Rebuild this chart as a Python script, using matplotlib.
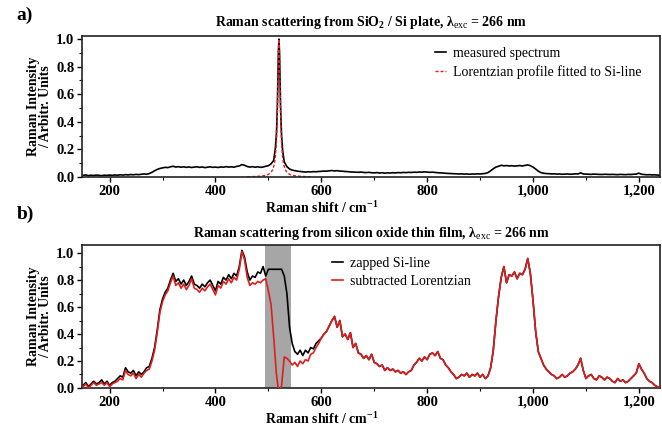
import numpy as np
import matplotlib
matplotlib.use("Agg")
import matplotlib.pyplot as plt
from matplotlib.ticker import MultipleLocator, FixedLocator, FixedFormatter

plt.rcParams['font.family'] = ['Liberation Serif', 'DejaVu Serif']
plt.rcParams['mathtext.fontset'] = 'custom'
plt.rcParams['mathtext.rm'] = 'Liberation Serif'
plt.rcParams['mathtext.bf'] = 'Liberation Serif:bold'
plt.rcParams['mathtext.it'] = 'Liberation Serif:italic'

# ---- panel a: SiO2 / Si plate ----
a_lo_x = np.arange(150, 511, 5)
a_lo_y = [0.012, 0.015, 0.010, 0.013, 0.011, 0.014, 0.012, 0.010, 0.013, 0.012,
          0.014, 0.012, 0.015, 0.013, 0.016, 0.014, 0.017, 0.015, 0.018, 0.016,
          0.019, 0.017, 0.020, 0.022, 0.020, 0.025, 0.034, 0.045, 0.055, 0.062,
          0.066, 0.070, 0.068, 0.074, 0.078, 0.072, 0.075, 0.071, 0.074, 0.070,
          0.073, 0.069, 0.072, 0.074, 0.070, 0.073, 0.068, 0.071, 0.074, 0.070,
          0.072, 0.069, 0.073, 0.071, 0.075, 0.072, 0.074, 0.071, 0.077, 0.080,
          0.090, 0.085, 0.076, 0.072, 0.075, 0.071, 0.074, 0.070, 0.072, 0.078,
          0.082, 0.095, 0.120]
a_peak_x = [511, 513, 515, 516, 517, 518, 519, 520, 521, 522, 523, 524, 525, 527, 529]
a_peak_y = [0.15, 0.20, 0.30, 0.39, 0.52, 0.71, 0.92, 1.00, 0.91, 0.70, 0.52, 0.39, 0.30, 0.19, 0.14]
a_hi_x = np.arange(530, 1241, 5)
a_hi_y = [0.110, 0.075, 0.058, 0.050,
          0.046, 0.042, 0.040, 0.038, 0.036, 0.038, 0.037, 0.039, 0.038, 0.040,
          0.041, 0.043, 0.042, 0.045, 0.047, 0.044, 0.046, 0.043, 0.042, 0.040,
          0.039, 0.037, 0.036, 0.035, 0.034, 0.036, 0.033, 0.032, 0.034, 0.031,
          0.030, 0.032, 0.029, 0.031, 0.028, 0.030, 0.029, 0.031, 0.030, 0.032,
          0.031, 0.033, 0.032, 0.034, 0.033, 0.035, 0.034, 0.036, 0.035, 0.037,
          0.036, 0.034, 0.035, 0.033, 0.031, 0.030, 0.029, 0.027, 0.026, 0.025,
          0.024, 0.023, 0.022, 0.023, 0.021, 0.022, 0.020, 0.022, 0.021, 0.023,
          0.022, 0.024, 0.026, 0.032, 0.045, 0.060, 0.072, 0.078, 0.085, 0.081,
          0.083, 0.080, 0.082, 0.079, 0.081, 0.083, 0.080, 0.084, 0.088, 0.082,
          0.072, 0.058, 0.042, 0.032, 0.027, 0.025, 0.024, 0.022, 0.023, 0.021,
          0.022, 0.020, 0.021, 0.022, 0.020, 0.021, 0.023, 0.022, 0.030, 0.022,
          0.021, 0.020, 0.019, 0.021, 0.020, 0.019, 0.018, 0.020, 0.019, 0.018,
          0.019, 0.018, 0.017, 0.019, 0.018, 0.017, 0.019, 0.018, 0.020, 0.021,
          0.028, 0.020, 0.018, 0.016, 0.017, 0.015, 0.016, 0.014, 0.013]

lor_x = [460, 470, 480, 490, 495, 500, 505, 508, 511, 513, 515, 516, 517, 518, 519, 520,
         521, 522, 523, 524, 525, 527, 529, 532, 535, 540, 545, 550, 560, 570, 580]
lor_y = [0.002, 0.003, 0.005, 0.009, 0.012, 0.019, 0.034, 0.052, 0.088, 0.138, 0.239, 0.329,
         0.466, 0.662, 0.887, 1.0, 0.887, 0.662, 0.466, 0.329, 0.239, 0.138, 0.088, 0.052,
         0.034, 0.019, 0.012, 0.009, 0.005, 0.003, 0.002]

# ---- panel b: silicon oxide thin film ----
b_x = np.arange(150, 1241, 5)
zapped = [0.02, 0.04, 0.01, 0.03, 0.05, 0.03, 0.04, 0.06, 0.03, 0.05,
          0.02, 0.04, 0.05, 0.07, 0.09, 0.08, 0.15, 0.12, 0.11, 0.13,
          0.09, 0.12, 0.10, 0.12, 0.15, 0.16, 0.22, 0.30, 0.43, 0.58,
          0.66, 0.71, 0.74, 0.80, 0.85, 0.79, 0.81, 0.77, 0.80, 0.76,
          0.79, 0.83, 0.77, 0.76, 0.74, 0.77, 0.75, 0.78, 0.80, 0.76,
          0.72, 0.79, 0.77, 0.82, 0.80, 0.84, 0.81, 0.85, 0.83, 0.90,
          1.02, 0.97, 0.86, 0.80, 0.83, 0.82, 0.86, 0.85, 0.90, 0.83,
          0.88, 0.88, 0.88, 0.88, 0.88, 0.88, 0.83, 0.70, 0.45, 0.33,
          0.27, 0.25, 0.28, 0.24, 0.28, 0.26, 0.30, 0.29, 0.33, 0.35,
          0.37, 0.40, 0.42, 0.46, 0.50, 0.53, 0.45, 0.50, 0.38, 0.40,
          0.36, 0.41, 0.30, 0.33, 0.26, 0.25, 0.22, 0.24, 0.21, 0.25,
          0.19, 0.18, 0.16, 0.17, 0.13, 0.15, 0.13, 0.14, 0.12, 0.13,
          0.11, 0.12, 0.10, 0.12, 0.13, 0.17, 0.19, 0.22, 0.20, 0.23,
          0.21, 0.25, 0.26, 0.24, 0.27, 0.22, 0.21, 0.17, 0.15, 0.12,
          0.10, 0.07, 0.08, 0.10, 0.09, 0.11, 0.08, 0.10, 0.09, 0.11,
          0.08, 0.10, 0.07, 0.09, 0.15, 0.28, 0.50, 0.68, 0.82, 0.90,
          0.78, 0.84, 0.83, 0.86, 0.81, 0.85, 0.84, 0.88, 0.96, 0.85,
          0.65, 0.42, 0.27, 0.22, 0.17, 0.14, 0.12, 0.10, 0.09, 0.07,
          0.08, 0.10, 0.08, 0.09, 0.11, 0.12, 0.14, 0.17, 0.22, 0.13,
          0.07, 0.09, 0.10, 0.07, 0.06, 0.09, 0.08, 0.06, 0.08, 0.07,
          0.05, 0.04, 0.07, 0.05, 0.06, 0.04, 0.05, 0.07, 0.09, 0.11,
          0.18, 0.14, 0.11, 0.07, 0.05, 0.04, 0.02, 0.01, 0.00]
# subtracted Lorentzian, 150-595 (identical to zapped from 600 on)
subtracted_lo = [0.01, 0.03, 0.00, 0.02, 0.04, 0.02, 0.03, 0.04, 0.02, 0.04,
                 0.01, 0.03, 0.04, 0.05, 0.07, 0.06, 0.13, 0.10, 0.09, 0.11,
                 0.07, 0.10, 0.08, 0.11, 0.13, 0.14, 0.20, 0.28, 0.41, 0.56,
                 0.64, 0.69, 0.72, 0.78, 0.83, 0.76, 0.78, 0.74, 0.77, 0.73,
                 0.76, 0.81, 0.74, 0.73, 0.71, 0.74, 0.72, 0.75, 0.77, 0.73,
                 0.69, 0.76, 0.74, 0.79, 0.77, 0.81, 0.78, 0.82, 0.80, 0.88,
                 1.01, 0.95, 0.82, 0.76, 0.78, 0.77, 0.79, 0.78, 0.80, 0.81,
                 0.72, 0.62, 0.38, 0.11, -0.05, 0.02, 0.23, 0.22, 0.20, 0.17,
                 0.19, 0.16, 0.20, 0.18, 0.21, 0.20, 0.25, 0.26, 0.30, 0.33]
subtracted = subtracted_lo + zapped[len(subtracted_lo):]
zap_band = (493, 543)

xticks = [200, 400, 600, 800, 1000, 1200]
xtick_labels = ['200', '400', '600', '800', '1,000', '1,200']
yticks = [0.0, 0.2, 0.4, 0.6, 0.8, 1.0]
ytick_labels = ['0.0', '0.2', '0.4', '0.6', '0.8', '1.0']

red = '#dd1f1f'


def style_axes(ax, ytop):
    ax.set_xlim(148, 1240)
    ax.set_ylim(0, ytop)
    ax.xaxis.set_major_locator(FixedLocator(xticks))
    ax.xaxis.set_major_formatter(FixedFormatter(xtick_labels))
    ax.xaxis.set_minor_locator(MultipleLocator(100))
    ax.yaxis.set_major_locator(FixedLocator(yticks))
    ax.yaxis.set_major_formatter(FixedFormatter(ytick_labels))
    ax.yaxis.set_minor_locator(MultipleLocator(0.1))
    ax.tick_params(which='major', direction='out', length=3.5, width=1.0, labelsize=10.5, pad=2)
    ax.tick_params(which='minor', direction='out', length=2.5, width=0.8)
    for lab in ax.get_xticklabels() + ax.get_yticklabels():
        lab.set_fontweight('bold')
    for sp in ax.spines.values():
        sp.set_linewidth(1.2)
        sp.set_color('#222222')
    ax.set_ylabel('Raman Intensity\n/ Arbitr. Units', fontsize=10, fontweight='bold',
                  linespacing=0.95)
    ax.yaxis.set_label_coords(-0.052, 0.5)
    ax.set_xlabel('Raman shift / cm$^{\\mathbf{-1}}$', fontsize=10, fontweight='bold')
    ax.xaxis.set_label_coords(0.414, -0.165)


fig = plt.figure(figsize=(6.62, 4.29), dpi=100)

ax1 = fig.add_axes([0.124, 0.5874, 0.873, 0.3287])
ax1.plot(np.concatenate([a_lo_x, a_peak_x, a_hi_x]), a_lo_y + a_peak_y + a_hi_y,
         color='black', lw=1.2, label='measured spectrum')
ax1.plot(lor_x, lor_y, color=red, lw=1.0, ls=(0, (2.2, 1.4)),
         label='Lorentzian profile fitted to Si-line')
style_axes(ax1, 1.022)
ax1.set_title('Raman scattering from SiO$_\\mathbf{2}$ / Si plate, λ$_\\mathrm{exc}$ = 266 nm',
              fontsize=10, fontweight='bold', pad=7)
ax1.legend(loc='upper left', bbox_to_anchor=(0.61, 0.925), frameon=False, fontsize=10,
           handlelength=0.8, handletextpad=0.5, borderpad=0, borderaxespad=0,
           labelspacing=0.4)

ax2 = fig.add_axes([0.124, 0.0956, 0.873, 0.3333])
ax2.axvspan(zap_band[0], zap_band[1], color='#a6a6a6', lw=0, zorder=0)
ax2.plot(b_x, zapped, color='black', lw=1.2, label='zapped Si-line', zorder=2)
ax2.plot(b_x, subtracted, color=red, lw=1.2, label='subtracted Lorentzian', zorder=3)
style_axes(ax2, 1.06)
ax2.set_title('Raman scattering from silicon oxide thin film, λ$_\\mathrm{exc}$ = 266 nm',
              fontsize=10, fontweight='bold', pad=6)
ax2.legend(loc='upper left', bbox_to_anchor=(0.433, 0.915), frameon=False, fontsize=10,
           handlelength=0.8, handletextpad=0.5, borderpad=0, borderaxespad=0,
           labelspacing=0.35)

fig.text(0.025, 0.965, 'a)', fontsize=14, fontweight='bold', va='center', ha='left')
fig.text(0.025, 0.50, 'b)', fontsize=14, fontweight='bold', va='center', ha='left')

fig.savefig('out.png', dpi=100)
